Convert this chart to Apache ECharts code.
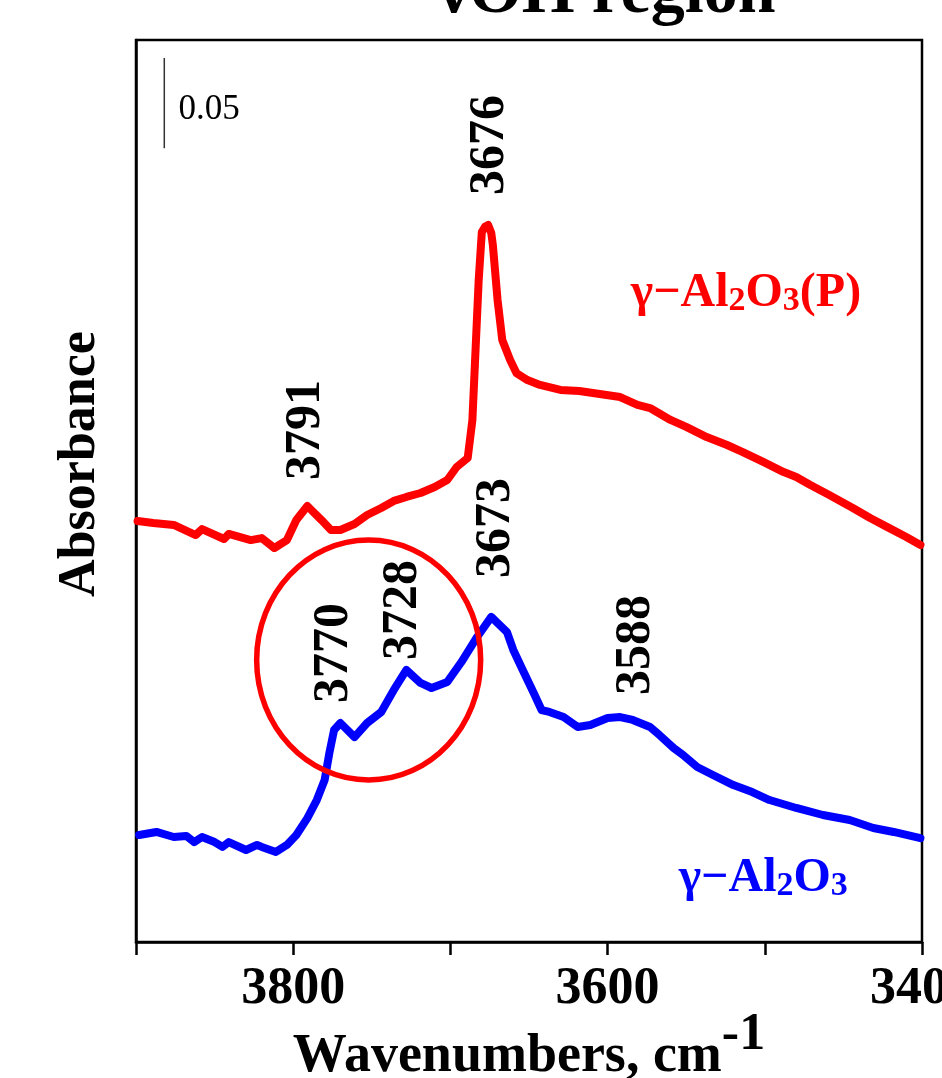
<!DOCTYPE html>
<html>
<head>
<meta charset="utf-8">
<script src="https://cdn.jsdelivr.net/npm/echarts@6/dist/echarts.min.js"></script>
<style>
  html, body { margin: 0; padding: 0; background: #fff; }
  #chart { width: 942px; height: 1078px; }
</style>
</head>
<body>
<div id="chart"></div>
<script>
const FONT = '"Liberation Serif", "Times New Roman", serif';

// gamma-Al2O3(P), red trace
const wnRed = [3899, 3889, 3876, 3862, 3858, 3844, 3841, 3827, 3820, 3812, 3804, 3798, 3791, 3782, 3776, 3770, 3761, 3753, 3744, 3736, 3728, 3719, 3710, 3702, 3696, 3689, 3686, 3684, 3682, 3680, 3678, 3676, 3674, 3673, 3670, 3667, 3662, 3658, 3651, 3643, 3630, 3618, 3605, 3592, 3581, 3573, 3560, 3550, 3537, 3524, 3514, 3501, 3488, 3480, 3471, 3459, 3444, 3433, 3422, 3410, 3401];
const absRed = [0.2334, 0.2323, 0.2312, 0.2256, 0.2289, 0.2234, 0.2262, 0.2228, 0.2239, 0.2184, 0.2228, 0.2339, 0.2417, 0.2339, 0.2284, 0.2284, 0.2317, 0.2367, 0.2406, 0.2445, 0.2467, 0.2489, 0.2522, 0.2561, 0.2633, 0.2683, 0.2894, 0.3282, 0.3670, 0.3936, 0.3965, 0.3975, 0.3930, 0.3864, 0.3559, 0.3337, 0.3226, 0.3154, 0.3115, 0.3088, 0.3060, 0.3054, 0.3038, 0.3021, 0.2977, 0.2960, 0.2894, 0.2855, 0.2799, 0.2755, 0.2716, 0.2661, 0.2605, 0.2578, 0.2533, 0.2478, 0.2406, 0.2350, 0.2300, 0.2245, 0.2201];

// gamma-Al2O3, blue trace
const wnBlue = [3898, 3887, 3876, 3868, 3863, 3858, 3850, 3845, 3841, 3830, 3823, 3820, 3811, 3804, 3798, 3791, 3785, 3780, 3777, 3774, 3770, 3761, 3753, 3744, 3736, 3728, 3719, 3712, 3702, 3693, 3683, 3674, 3664, 3660, 3654, 3647, 3642, 3637, 3628, 3619, 3611, 3600, 3592, 3584, 3573, 3567, 3558, 3552, 3543, 3533, 3520, 3508, 3497, 3480, 3463, 3446, 3431, 3418, 3401];
const absBlue = [0.0593, 0.0610, 0.0582, 0.0588, 0.0554, 0.0582, 0.0554, 0.0527, 0.0554, 0.0510, 0.0538, 0.0527, 0.0499, 0.0538, 0.0593, 0.0687, 0.0787, 0.0898, 0.1048, 0.1175, 0.1214, 0.1136, 0.1214, 0.1275, 0.1397, 0.1508, 0.1436, 0.1408, 0.1441, 0.1552, 0.1691, 0.1802, 0.1718, 0.1619, 0.1508, 0.1380, 0.1286, 0.1275, 0.1247, 0.1192, 0.1203, 0.1242, 0.1247, 0.1231, 0.1192, 0.1147, 0.1075, 0.1037, 0.0970, 0.0926, 0.0870, 0.0831, 0.0787, 0.0743, 0.0704, 0.0676, 0.0632, 0.0610, 0.0576];

// peak annotations (rotated labels)
const peakLabels = ['3676', '3791', '3673', '3770', '3728', '3588'];
const peakLabelWn = [3675, 3792, 3671, 3774, 3730, 3582];
const peakLabelAbs = [0.4418, 0.2838, 0.2295, 0.1602, 0.1840, 0.1646];

// scale bar (0.05 absorbance)
const scaleBarWn = [3882, 3882];
const scaleBarAbs = [0.440, 0.490];

// x axis ticks
const xMin = 3400;
const xMax = 3900;
const xTickStep = 100;

const chartDom = document.getElementById('chart');
const chart = echarts.init(chartDom);

const toPairs = (xs, ys) => xs.map((x, i) => [x, ys[i]]);

chart.setOption({
  animation: false,
  grid: {
    left: 136,
    right: 20,
    top: 40,
    bottom: 136,
    containLabel: false,
    outerBoundsMode: 'none',
    show: true,
    borderColor: '#000',
    borderWidth: 2.5,
    backgroundColor: 'transparent'
  },
  xAxis: {
    type: 'value',
    min: xMin,
    max: xMax,
    interval: xTickStep,
    inverse: true,
    splitLine: { show: false },
    axisLine: { show: true, lineStyle: { color: '#000', width: 2.5 } },
    axisTick: { show: true, inside: false, length: 13, lineStyle: { color: '#000', width: 2.5 } },
    axisLabel: {
      show: true,
      showMinLabel: true,
      showMaxLabel: true,
      hideOverlap: false,
      margin: 22,
      color: '#000',
      fontFamily: FONT,
      fontWeight: 'bold',
      fontSize: 52,
      formatter: (v) => (v % 200 === 0 ? String(v) : '')
    },
    name: '{m|Wavenumbers, cm}{s|-1}',
    nameLocation: 'middle',
    nameGap: 82,
    nameMoveOverlap: false,
    nameTextStyle: {
      rich: {
        m: { fontFamily: FONT, fontWeight: 'bold', fontSize: 54, color: '#000', lineHeight: 60, verticalAlign: 'bottom' },
        s: { fontFamily: FONT, fontWeight: 'bold', fontSize: 52, color: '#000', lineHeight: 60, verticalAlign: 'bottom', padding: [0, 0, 22, 0] }
      }
    }
  },
  yAxis: {
    type: 'value',
    min: 0,
    max: 0.5,
    splitLine: { show: false },
    axisLine: { show: true, lineStyle: { color: '#000', width: 2.5 } },
    axisTick: { show: false },
    axisLabel: { show: false }
  },
  series: [
    {
      name: 'γ−Al2O3(P)',
      type: 'line',
      data: toPairs(wnRed, absRed),
      showSymbol: false,
      lineStyle: { color: '#ff0000', width: 8, join: 'round', cap: 'round' },
      itemStyle: { color: '#ff0000' },
      z: 3
    },
    {
      name: 'γ−Al2O3',
      type: 'line',
      data: toPairs(wnBlue, absBlue),
      showSymbol: false,
      lineStyle: { color: '#0000ff', width: 8, join: 'round', cap: 'round' },
      itemStyle: { color: '#0000ff' },
      z: 3
    },
    {
      name: 'scale',
      type: 'line',
      data: toPairs(scaleBarWn, scaleBarAbs),
      showSymbol: false,
      silent: true,
      lineStyle: { color: '#333', width: 1.5 }
    }
  ]
});

// annotations placed from data coordinates
const px = (wn, a) => chart.convertToPixel({ gridIndex: 0 }, [wn, a]);

const graphics = [];

peakLabels.forEach((t, i) => {
  const p = px(peakLabelWn[i], peakLabelAbs[i]);
  graphics.push({
    type: 'text',
    x: p[0],
    y: p[1],
    rotation: Math.PI / 2,
    style: {
      text: t,
      fill: '#000',
      font: 'bold 50px ' + FONT,
      align: 'center',
      verticalAlign: 'middle'
    },
    z: 10
  });
});

// "0.05" next to scale bar
const sb = px(3873, 0.4612);
graphics.push({
  type: 'text',
  x: sb[0],
  y: sb[1],
  style: { text: '0.05', fill: '#000', font: '35px ' + FONT, align: 'left', verticalAlign: 'middle' }
});

// highlighted region ellipse
const ec = px(3752, 0.1563);
graphics.push({
  type: 'ellipse',
  shape: { cx: ec[0], cy: ec[1], rx: 112, ry: 120 },
  style: { fill: 'none', stroke: '#ff0000', lineWidth: 5.5 },
  z: 5
});

// series labels
const subRich = (color) => ({
  a: { fontFamily: FONT, fontWeight: 'bold', fontSize: 48, fill: color, lineHeight: 50, verticalAlign: 'bottom' },
  s: { fontFamily: FONT, fontWeight: 'bold', fontSize: 34, fill: color, lineHeight: 14, verticalAlign: 'bottom' }
});
const lr = px(3512, 0.3598);
graphics.push({
  type: 'text',
  x: lr[0],
  y: lr[1],
  style: {
    text: '{a|γ−Al}{s|2}{a|O}{s|3}{a|(P)}',
    rich: subRich('#ff0000'),
    align: 'center',
    verticalAlign: 'middle'
  }
});
const lb = px(3501, 0.0355);
graphics.push({
  type: 'text',
  x: lb[0],
  y: lb[1],
  style: {
    text: '{a|γ−Al}{s|2}{a|O}{s|3}',
    rich: subRich('#0000ff'),
    align: 'center',
    verticalAlign: 'middle'
  }
});

// y axis title
graphics.push({
  type: 'text',
  x: 81,
  y: 464,
  rotation: Math.PI / 2,
  style: { text: 'Absorbance', fill: '#000', font: 'bold 52px ' + FONT, align: 'center', verticalAlign: 'middle' }
});

// chart title, cut off by the top edge
graphics.push({
  type: 'text',
  x: 607,
  y: -6,
  style: { text: 'νOH region', fill: '#000', font: 'bold 68px ' + FONT, align: 'center', verticalAlign: 'middle' }
});

chart.setOption({ graphic: graphics });

window.addEventListener('resize', () => chart.resize());
</script>
</body>
</html>
